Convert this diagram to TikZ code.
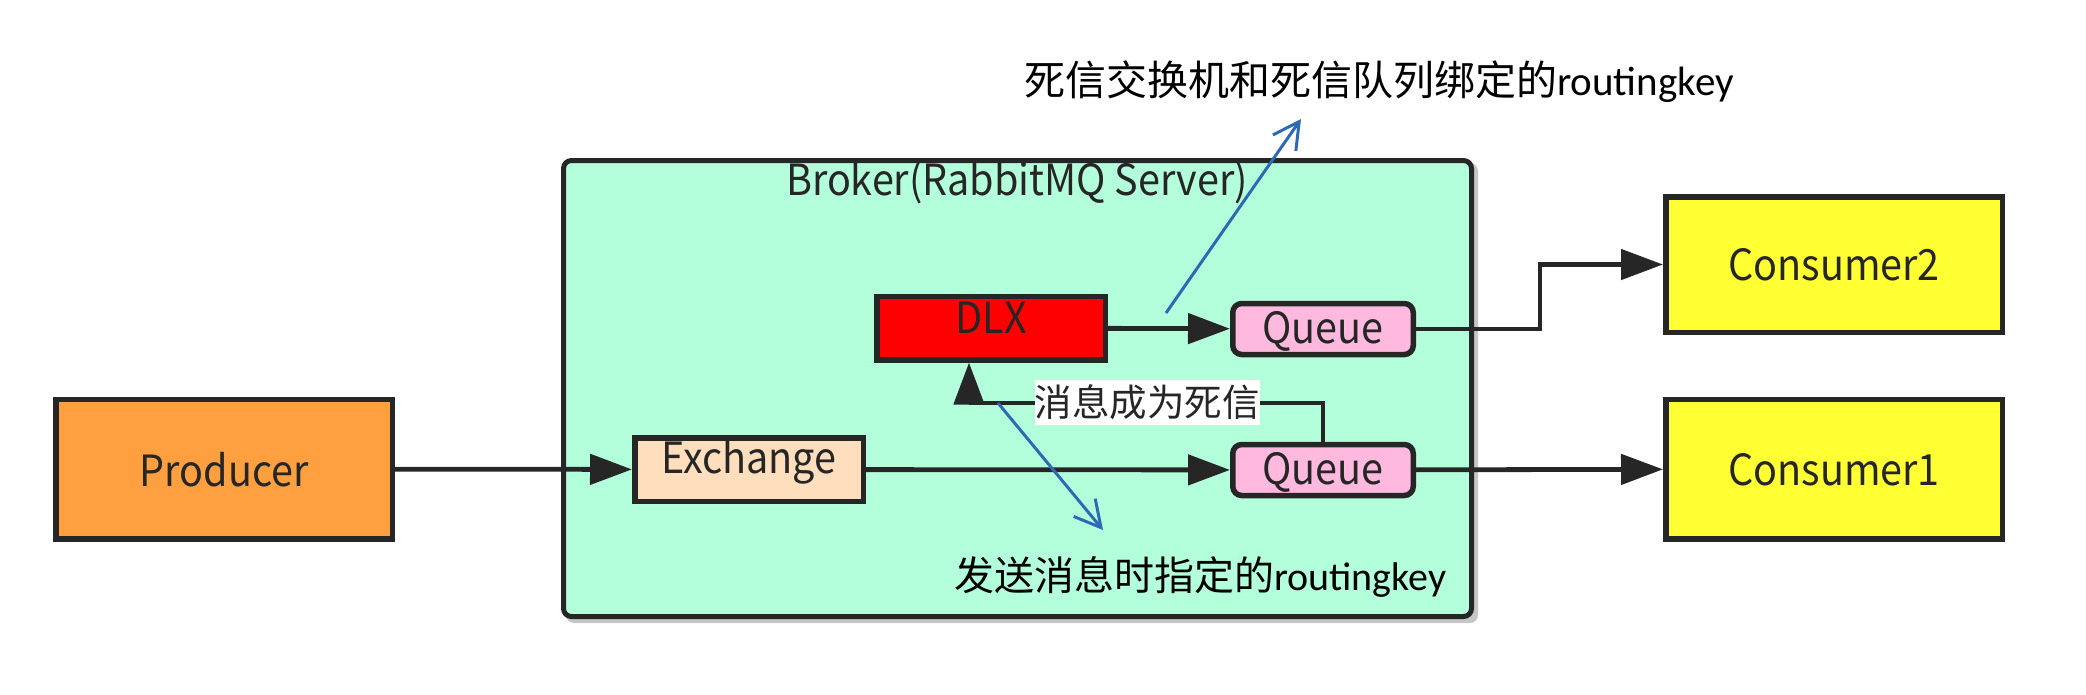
\documentclass[tikz,border=0pt]{standalone}
\usepackage{fontspec}
\setmainfont{Noto Sans CJK SC}
\newfontfamily\boxfont[FakeStretch=0.92]{Noto Sans CJK SC}
\newfontfamily\calib{Carlito}
\usetikzlibrary{arrows.meta}
\definecolor{ink}{RGB}{38,38,38}
\definecolor{mint}{RGB}{179,255,219}
\definecolor{prodfill}{RGB}{255,160,64}
\definecolor{exfill}{RGB}{255,222,189}
\definecolor{dlxfill}{RGB}{255,0,0}
\definecolor{qfill}{RGB}{255,185,222}
\definecolor{consfill}{RGB}{255,255,51}
\definecolor{noteblue}{RGB}{46,106,180}
\begin{document}
\begin{tikzpicture}[x=1pt,y=-1pt,
  boxnode/.style={draw=ink, line width=5.5pt, inner sep=0pt, text=ink, font=\boxfont\fontsize{43}{50}\selectfont},
  qnode/.style={boxnode, fill=qfill, rounded corners=9pt, minimum width=180.5pt, minimum height=51pt, text height=29pt, text depth=0pt},
  consnode/.style={boxnode, fill=consfill, minimum width=336.5pt},
  conn/.style={draw=ink, line width=4.8pt, -{Triangle[length=42pt,width=30pt]}},
  bluearrow/.style={draw=noteblue, line width=3pt, -{Straight Barb[length=26pt,width=28pt]}},
]
\useasboundingbox (0,0) rectangle (2086,694);
% broker
\fill[gray!45, rounded corners=8pt] (566,163) rectangle (1478,623);
\node[draw=ink, line width=5pt, fill=mint, rounded corners=8pt, minimum width=908pt, minimum height=456pt, inner sep=0pt] (broker) at (1017.5,388.5) {};
\node[anchor=base, text=ink, inner sep=0pt, font=\boxfont\fontsize{43}{50}\selectfont] (btitle) at (1017,195) {Broker(RabbitMQ Server)};
% boxes
\node[boxnode, fill=prodfill, minimum width=336.5pt, minimum height=139.5pt, text height=35pt, text depth=0pt] (prod) at (224,469) {Producer};
\node[boxnode, fill=exfill, minimum width=228.5pt, minimum height=63.5pt, text height=18pt, text depth=11pt] (ex) at (749,469.5) {Exchange};
\node[boxnode, fill=dlxfill, minimum width=228.5pt, minimum height=63.5pt, text height=20pt, text depth=10pt] (dlx) at (991,328) {DLX};
\node[qnode] (qt) at (1323,329) {Queue};
\node[qnode] (qb) at (1323,470) {Queue};
\node[consnode, minimum height=135.5pt, text height=31pt, text depth=0pt] (c2) at (1834,264.5) {Consumer2};
\node[consnode, minimum height=139.5pt, text height=33pt, text depth=0pt] (c1) at (1834,469) {Consumer1};
% connectors
\draw[conn] (prod) -- (ex);
\draw[conn] (ex) -- (qb);
\draw[conn] (dlx) -- (qt);
\draw[conn] (qb) -- (c1);
\coordinate (bend) at (1540,329);
\draw[conn] (qt.east) -- (bend) |- (c2.west);
\coordinate (dlc) at (969,403);
\draw[conn] (qb.north) |- (dlc) -- (dlc |- dlx.south);
\node[fill=white, inner sep=0pt, text=ink, font=\fontsize{37.5}{40}\selectfont, minimum height=45pt, text height=33pt, text depth=4.5pt] (dead) at (1147,402) {消息成为死信};
% blue notes
\coordinate (n1s) at (1166,313);
\coordinate (n1e) at (1301,119);
\draw[bluearrow] (n1s) -- (n1e);
\coordinate (n2s) at (998,403);
\coordinate (n2e) at (1103,530);
\draw[bluearrow] (n2s) -- (n2e);
\node[anchor=base west, inner sep=0pt, text=black, font=\fontsize{41}{50}\selectfont] (ann1) at (1024,95) {死信交换机和死信队列绑定的{\calib routingkey}};
\node[anchor=base west, inner sep=0pt, text=black, font=\fontsize{40}{46}\selectfont] (ann2) at (954,590) {发送消息时指定的{\calib routingkey}};
\end{tikzpicture}
\end{document}
